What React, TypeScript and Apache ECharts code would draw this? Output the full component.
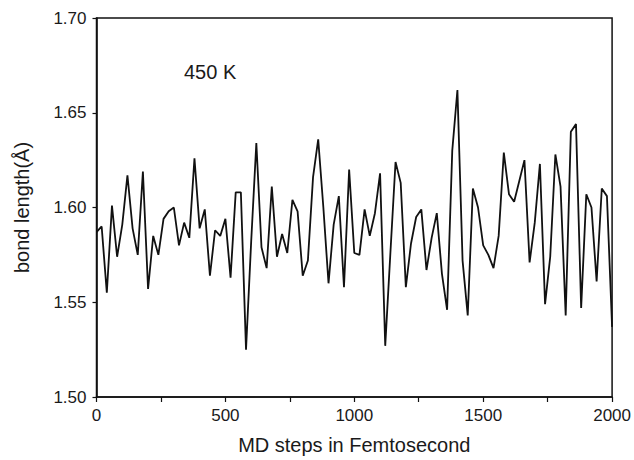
import React, { useEffect, useRef } from "react";
import * as echarts from "echarts";

const STEP_FS = 20;
const bondLength: number[] = [
  1.587, 1.590, 1.555, 1.601, 1.574, 1.591, 1.617, 1.589, 1.575, 1.619,
  1.557, 1.585, 1.575, 1.594, 1.598, 1.600, 1.580, 1.592, 1.584, 1.626,
  1.589, 1.599, 1.564, 1.588, 1.585, 1.594, 1.563, 1.608, 1.608, 1.525,
  1.582, 1.634, 1.579, 1.568, 1.611, 1.574, 1.586, 1.576, 1.604, 1.598,
  1.564, 1.572, 1.616, 1.636, 1.600, 1.560, 1.591, 1.606, 1.558, 1.620,
  1.576, 1.575, 1.599, 1.585, 1.597, 1.618, 1.527, 1.576, 1.624, 1.613,
  1.558, 1.581, 1.595, 1.599, 1.567, 1.584, 1.597, 1.565, 1.546, 1.630,
  1.662, 1.572, 1.543, 1.610, 1.600, 1.580, 1.575, 1.568, 1.585, 1.629,
  1.607, 1.603, 1.614, 1.625, 1.571, 1.592, 1.623, 1.549, 1.574, 1.628,
  1.611, 1.543, 1.640, 1.644, 1.547, 1.607, 1.600, 1.561, 1.610, 1.606,
  1.537,
];
const xLabelTicks: number[] = [0, 500, 1000, 1500, 2000];
const annotation = "450 K";
const xTitle = "MD steps in Femtosecond";
const yTitle = "bond length(Å)";

export default function App() {
  const ref = useRef<HTMLDivElement>(null);
  useEffect(() => {
    document.body.style.margin = "0";
    if (!ref.current) return;
    const chart = echarts.init(ref.current, undefined, { renderer: "svg" });
    const font = "Liberation Sans, Arial, sans-serif";
    chart.setOption({
      animation: false,
      backgroundColor: "#ffffff",
      grid: {
        left: 96.5,
        right: 18.5,
        top: 18,
        bottom: 57,
        show: true,
        borderColor: "#111",
        borderWidth: 1.5,
      },
      xAxis: {
        type: "value",
        min: 0,
        max: 2000,
        interval: 250,
        name: xTitle,
        nameLocation: "middle",
        nameGap: 38,
        nameTextStyle: { fontFamily: font, fontSize: 20, color: "#1a1a1a" },
        axisLine: { show: true, lineStyle: { color: "#111", width: 1.6 } },
        axisTick: { show: true, inside: false, length: 5, lineStyle: { color: "#111", width: 1.2 } },
        splitLine: { show: false },
        axisLabel: {
          fontFamily: font,
          fontSize: 17,
          color: "#1a1a1a",
          margin: 10,
          formatter: (v: number) => (xLabelTicks.includes(v) ? String(v) : ""),
        },
      },
      yAxis: {
        type: "value",
        min: 1.5,
        max: 1.7,
        interval: 0.05,
        name: yTitle,
        nameLocation: "middle",
        nameGap: 65,
        nameTextStyle: { fontFamily: font, fontSize: 20, color: "#1a1a1a" },
        axisLine: { show: true, lineStyle: { color: "#111", width: 1.6 } },
        axisTick: { show: true, inside: false, length: 4, lineStyle: { color: "#111", width: 1.2 } },
        splitLine: { show: false },
        axisLabel: {
          fontFamily: font,
          fontSize: 17,
          color: "#1a1a1a",
          margin: 10,
          formatter: (v: number) => v.toFixed(2),
        },
      },
      graphic: [
        {
          type: "text",
          left: 184,
          top: 62,
          style: { text: annotation, fontFamily: font, fontSize: 20, fill: "#1a1a1a" },
        },
      ],
      series: [
        {
          type: "line",
          data: bondLength.map((v, i) => [i * STEP_FS, v]),
          showSymbol: false,
          symbol: "none",
          lineStyle: { color: "#111", width: 1.8 },
          clip: true,
        },
      ],
    });
    return () => chart.dispose();
  }, []);
  return <div ref={ref} style={{ width: 634, height: 460 }} />;
}
